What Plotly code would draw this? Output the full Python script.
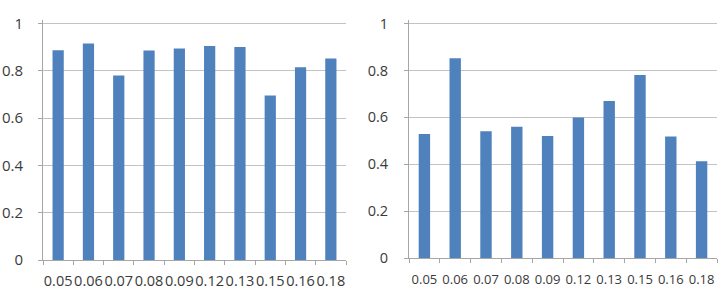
import plotly.graph_objects as go

categories = ["0.05", "0.06", "0.07", "0.08", "0.09", "0.12", "0.13", "0.15", "0.16", "0.18"]
left_values = [0.887, 0.915, 0.780, 0.886, 0.894, 0.905, 0.901, 0.696, 0.815, 0.852]
right_values = [0.529, 0.852, 0.541, 0.560, 0.521, 0.600, 0.670, 0.781, 0.519, 0.413]
y_ticks = [0, 0.2, 0.4, 0.6, 0.8, 1]
y_ticktext = ["0", "0.2", "0.4", "0.6", "0.8", "1"]

W, H = 725, 301
BAR = "#4f81bd"
TXT = "#3a3a3a"
GRID = "#c3c3c3"
AX = "#a6a6a6"
YMAX = 1.015

fig = go.Figure()
fig.add_trace(go.Bar(x=categories, y=left_values, marker=dict(color=BAR, line=dict(width=0)),
                     xaxis="x", yaxis="y", showlegend=False))
fig.add_trace(go.Bar(x=categories, y=right_values, marker=dict(color=BAR, line=dict(width=0)),
                     xaxis="x2", yaxis="y2", showlegend=False))

def xax(domain, anchor, size, standoff):
    return dict(domain=domain, anchor=anchor, type="category", automargin=False,
                showline=True, linecolor=AX, linewidth=1,
                ticks="outside", tickson="boundaries", ticklen=4, tickcolor=AX,
                tickangle=0, ticklabelstandoff=standoff,
                showgrid=False, tickfont=dict(family="Open Sans", size=size, color=TXT),
                fixedrange=True)

def yax(bottom_px, top_px, anchor, size, standoff):
    span = bottom_px - top_px
    top_ext = top_px - span * (YMAX - 1)
    return dict(domain=[1 - bottom_px / H, 1 - top_ext / H], anchor=anchor, range=[0, YMAX],
                automargin=False,
                tickvals=y_ticks, ticktext=y_ticktext,
                showline=True, linecolor=AX, linewidth=1,
                ticks="outside", ticklen=4, tickcolor=AX,
                showgrid=True, gridcolor=GRID, gridwidth=1, zeroline=False,
                tickfont=dict(family="Open Sans", size=size, color=TXT),
                ticklabelstandoff=standoff, fixedrange=True)

fig.update_layout(
    width=W, height=H,
    margin=dict(l=0, r=0, t=0, b=0),
    paper_bgcolor="white", plot_bgcolor="white",
    bargap=0.63,
    xaxis=xax([43 / W, 346 / W], "y", 14.5, 8),
    yaxis=yax(260, 23.5, "x", 15, 12),
    xaxis2=xax([409 / W, 717 / W], "y2", 13, 9),
    yaxis2=yax(258.3, 23.5, "x2", 14.5, 13),
)

fig.write_html("out.html")
